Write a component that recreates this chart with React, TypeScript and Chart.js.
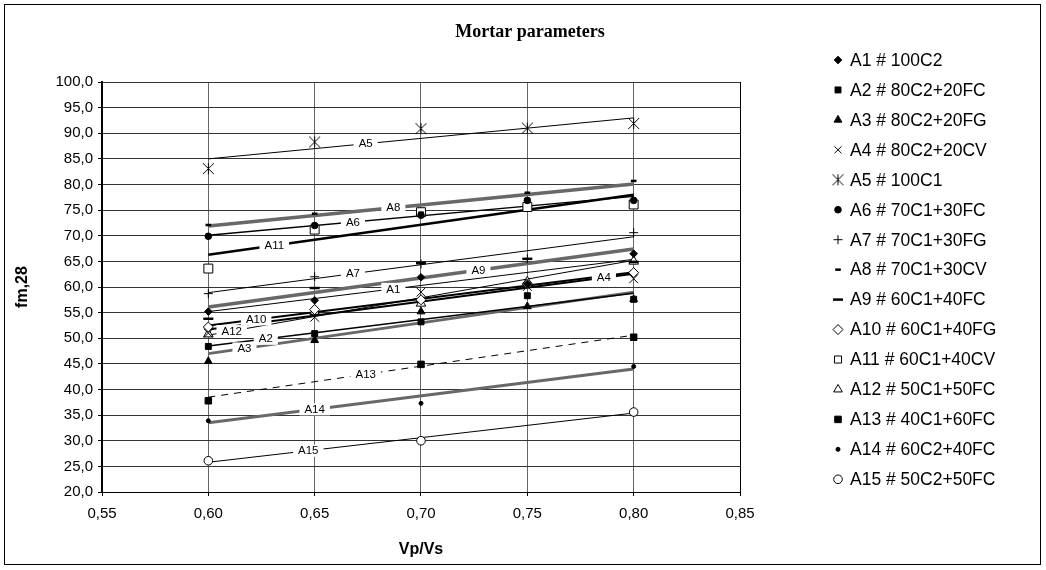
import React, { useEffect, useRef } from "react";
import { Chart, registerables } from "chart.js";
import { drawPoint } from "chart.js/helpers";

Chart.register(...registerables);

// ---------------- DATA ----------------
const xValues = [0.6, 0.65, 0.7, 0.75, 0.8];
const xTicks = [0.55, 0.6, 0.65, 0.7, 0.75, 0.8, 0.85];
const yTicks = [20, 25, 30, 35, 40, 45, 50, 55, 60, 65, 70, 75, 80, 85, 90, 95, 100];

const seriesNames = [
  "A1 # 100C2",
  "A2 # 80C2+20FC",
  "A3 # 80C2+20FG",
  "A4 # 80C2+20CV",
  "A5 # 100C1",
  "A6 # 70C1+30FC",
  "A7 # 70C1+30FG",
  "A8 # 70C1+30CV",
  "A9 # 60C1+40FC",
  "A10 # 60C1+40FG",
  "A11 # 60C1+40CV",
  "A12 # 50C1+50FC",
  "A13 # 40C1+60FC",
  "A14 # 60C2+40FC",
  "A15 # 50C2+50FC",
];
const trendLabels = ["A1", "A2", "A3", "A4", "A5", "A6", "A7", "A8", "A9", "A10", "A11", "A12", "A13", "A14", "A15"];

const A1 = [55.2, 57.4, 61.9, 60.6, 66.5];
const A2 = [48.4, 50.9, 53.2, 58.3, 57.6];
const A3 = [45.5, 49.6, 55.2, 56.2, 57.6];
const A4 = [51.0, 54.1, 59.0, 60.1, 61.6];
const A5 = [83.1, 88.3, 90.9, 91.0, 91.9];
const A6 = [69.9, 72.0, 74.0, 76.9, 76.9];
const A7 = [58.7, 62.0, 64.5, 65.5, 70.6];
const A8 = [72.1, 74.3, 74.5, 78.4, 80.7];
const A9 = [53.8, 59.8, 64.7, 65.5, 64.9];
const A10 = [52.2, 55.6, 57.5, 60.6, 62.8];
const A11 = [63.6, 71.2, 74.6, 75.6, 76.1];
const A12 = [50.8, 55.2, 56.8, 61.0, 65.0];
const A13 = [37.8, null, 44.9, null, 50.2];
const A14 = [33.9, null, 37.3, null, 44.5];
const A15 = [26.1, null, 30.0, null, 35.6];
const seriesValues = [A1, A2, A3, A4, A5, A6, A7, A8, A9, A10, A11, A12, A13, A14, A15];

// linear trend lines (value at 0.60 and at 0.80)
const trendX = [0.6, 0.8];
const trendStart = [55.2, 48.5, 47.0, 51.7, 85.0, 70.1, 58.9, 71.9, 56.1, 52.5, 66.3, 50.6, 38.5, 33.5, 25.8];
const trendEnd = [65.4, 58.8, 59.0, 62.6, 93.0, 77.7, 69.8, 80.1, 67.4, 62.9, 78.0, 65.2, 50.6, 44.0, 35.4];
// x position of the text label sitting on each trend line
const labelX = [0.687, 0.627, 0.617, 0.786, 0.674, 0.668, 0.668, 0.687, 0.727, 0.6225, 0.631, 0.611, 0.674, 0.65, 0.647];

// ---------------- STYLES ----------------
const GREY = "#686868";
type MStyle = { ps: any; r: number; fill: string; bw: number };
const markerStyles: MStyle[] = [
  { ps: "rectRot", r: 3.8, fill: "#000", bw: 1 },
  { ps: "rect", r: 4.2, fill: "#000", bw: 1 },
  { ps: "triangle", r: 4.5, fill: "#000", bw: 1 },
  { ps: "crossRot", r: 6.2, fill: "#000", bw: 1 },
  { ps: "star5", r: 5.5, fill: "#000", bw: 1 },
  { ps: "circle", r: 3.3, fill: "#000", bw: 1 },
  { ps: "cross", r: 4.5, fill: "#000", bw: 1 },
  { ps: "line", r: 2.8, fill: "#000", bw: 2.5 },
  { ps: "line", r: 5, fill: "#000", bw: 2.5 },
  { ps: "rectRot", r: 5, fill: "#fff", bw: 1 },
  { ps: "rect", r: 6.3, fill: "#fff", bw: 1 },
  { ps: "triangle", r: 5.5, fill: "#fff", bw: 1 },
  { ps: "rect", r: 4.6, fill: "#000", bw: 1 },
  { ps: "circle", r: 2, fill: "#000", bw: 1 },
  { ps: "circle", r: 4.3, fill: "#fff", bw: 1 },
];
const trendStyles = [
  { c: "#000", w: 1, d: [] as number[] },
  { c: "#000", w: 1.5, d: [] },
  { c: GREY, w: 3, d: [] },
  { c: "#000", w: 2, d: [] },
  { c: "#000", w: 1, d: [] },
  { c: "#000", w: 1.3, d: [] },
  { c: "#000", w: 1, d: [] },
  { c: GREY, w: 3.5, d: [] },
  { c: GREY, w: 3.5, d: [] },
  { c: "#000", w: 2, d: [] },
  { c: "#000", w: 2.6, d: [] },
  { c: "#000", w: 1, d: [] },
  { c: "#000", w: 1, d: [7, 6] },
  { c: GREY, w: 3, d: [] },
  { c: "#000", w: 1, d: [] },
];

const FONT = '"Liberation Sans", Arial, sans-serif';

function makeStarCanvas(r: number): HTMLCanvasElement {
  const c = document.createElement("canvas");
  const s = Math.ceil(r * 2 + 4);
  c.width = s;
  c.height = s;
  const g = c.getContext("2d")!;
  const m = s / 2;
  g.strokeStyle = "#000";
  g.lineWidth = 1;
  g.beginPath();
  g.moveTo(m - r, m - r);
  g.lineTo(m + r, m + r);
  g.moveTo(m + r, m - r);
  g.lineTo(m - r, m + r);
  g.moveTo(m, m - r);
  g.lineTo(m, m + r);
  g.stroke();
  return c;
}

function resolveStyle(ps: any, star: HTMLCanvasElement) {
  return ps === "star5" ? star : ps;
}

export default function App() {
  const ref = useRef<HTMLCanvasElement>(null);

  useEffect(() => {
    document.body.style.margin = "0";
    const canvas = ref.current!;
    const star = makeStarCanvas(5.5);
    const firstTrendIndex = seriesValues.length;

    const markerSets = seriesValues.map((vals, i) => {
      const st = markerStyles[i];
      return {
        label: seriesNames[i],
        data: xValues
          .map((x, j) => (vals[j] === null ? null : { x, y: vals[j] as number }))
          .filter((p) => p !== null) as { x: number; y: number }[],
        showLine: false,
        pointStyle: resolveStyle(st.ps, star),
        pointRadius: st.r,
        pointHoverRadius: st.r,
        pointBackgroundColor: st.fill,
        pointBorderColor: "#000",
        pointBorderWidth: st.bw,
        order: 1,
      };
    });
    const trendSets = seriesValues.map((_, i) => {
      const t = trendStyles[i];
      return {
        label: "trend " + trendLabels[i],
        data: [
          { x: trendX[0], y: trendStart[i] },
          { x: trendX[1], y: trendEnd[i] },
        ],
        showLine: true,
        pointRadius: 0,
        borderColor: t.c,
        borderWidth: t.w,
        borderDash: t.d,
        fill: false,
        order: 2,
      };
    });

    const framePlugin = {
      id: "frame",
      beforeDraw(chart: any) {
        const c = chart.ctx;
        c.save();
        c.fillStyle = "#fff";
        c.fillRect(0, 0, chart.width, chart.height);
        c.strokeStyle = "#000";
        c.lineWidth = 1;
        c.strokeRect(4.5, 4.5, 1036, 560);
        c.fillStyle = "#000";
        c.font = 'bold 18px "Liberation Serif", "Times New Roman", serif';
        c.textAlign = "center";
        c.textBaseline = "middle";
        c.fillText("Mortar parameters", 530, 32);
        c.restore();
      },
      afterDraw(chart: any) {
        const c = chart.ctx;
        c.save();
        c.font = "17.5px " + FONT;
        c.textBaseline = "middle";
        c.textAlign = "left";
        seriesNames.forEach((name, i) => {
          const y = 60 + i * 29.95;
          const st = markerStyles[i];
          c.fillStyle = st.fill;
          c.strokeStyle = "#000";
          c.lineWidth = st.bw;
          drawPoint(c, { pointStyle: resolveStyle(st.ps, star), radius: Math.min(st.r, 5), rotation: 0, borderWidth: st.bw }, 838, y);
          c.fillStyle = "#000";
          c.fillText(name, 850, y + 1);
        });
        c.restore();
      },
      afterDatasetDraw(chart: any, args: any) {
        if (args.index !== firstTrendIndex) return;
        const c = chart.ctx;
        const xs = chart.scales.x;
        const ys = chart.scales.y;
        c.save();
        c.font = "11.5px " + FONT;
        c.textAlign = "center";
        c.textBaseline = "middle";
        trendLabels.forEach((txt, i) => {
          const lx = labelX[i];
          const t = (lx - trendX[0]) / (trendX[1] - trendX[0]);
          const ly = trendStart[i] + t * (trendEnd[i] - trendStart[i]);
          const px = xs.getPixelForValue(lx);
          const py = ys.getPixelForValue(ly);
          const w = c.measureText(txt).width + 10;
          c.fillStyle = "#fff";
          c.fillRect(px - w / 2, py - 6, w, 12);
          c.fillStyle = "#000";
          c.fillText(txt, px, py + 0.5);
        });
        c.restore();
      },
    };

    const chart = new Chart(canvas, {
      type: "scatter",
      data: { datasets: [...markerSets, ...trendSets] as any },
      plugins: [framePlugin],
      options: {
        animation: false,
        responsive: false,
        events: [],
        layout: { padding: { top: 82, right: 306, left: 0, bottom: 0 } },
        plugins: {
          legend: { display: false },
          tooltip: { enabled: false },
          title: { display: false },
        },
        scales: {
          x: {
            type: "linear",
            min: 0.55,
            max: 0.85,
            afterBuildTicks: (s: any) => {
              s.ticks = xTicks.map((v) => ({ value: v }));
            },
            afterFit: (s: any) => {
              s.height = 78;
            },
            ticks: {
              color: "#000",
              font: { family: FONT, size: 15 },
              padding: 9,
              maxRotation: 0,
              callback: (v: any) => Number(v).toFixed(2).replace(".", ","),
            },
            grid: {
              color: (ctx: any) => (ctx.tick && Math.abs(ctx.tick.value - 0.85) < 1e-6 ? "#000" : "#666"),
              lineWidth: 1,
              tickLength: 4,
              tickColor: "#000",
            },
            border: { color: "#000", width: 1 },
            title: {
              display: true,
              text: "Vp/Vs",
              color: "#000",
              font: { family: FONT, size: 16, weight: "bold" },
              padding: { top: 0, bottom: 11 },
            },
          },
          y: {
            type: "linear",
            min: 20,
            max: 100,
            afterBuildTicks: (s: any) => {
              s.ticks = yTicks.map((v) => ({ value: v }));
            },
            afterFit: (s: any) => {
              s.width = 102;
            },
            ticks: {
              color: "#000",
              font: { family: FONT, size: 15 },
              padding: 5,
              callback: (v: any) => Number(v).toFixed(1).replace(".", ","),
            },
            grid: {
              color: "#333",
              lineWidth: 1,
              tickLength: 4,
              tickColor: "#000",
            },
            border: { color: "#000", width: 2 },
            title: {
              display: true,
              text: "fm,28",
              color: "#000",
              font: { family: FONT, size: 16, weight: "bold" },
              padding: { top: 13, bottom: 0 },
            },
          },
        },
      } as any,
    });
    return () => chart.destroy();
  }, []);

  return <canvas ref={ref} width={1046} height={570} style={{ display: "block" }} />;
}
